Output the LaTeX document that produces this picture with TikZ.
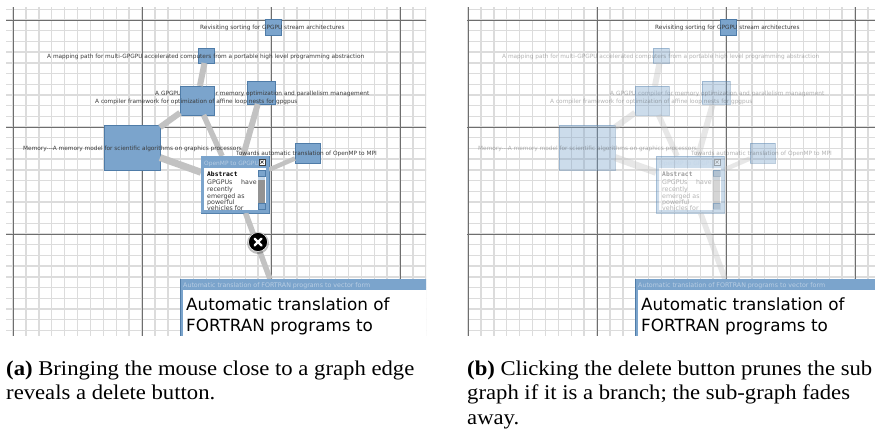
\documentclass[tikz,border=0pt]{standalone}
\usepackage{fontspec}
\usetikzlibrary{calc}
\setmainfont{Liberation Serif}
\newfontfamily\capf[FakeStretch=1.08]{Liberation Serif}
\newfontfamily\djv{DejaVu Sans}
\newfontfamily\djm{DejaVu Sans Mono}
\definecolor{nodeblue}{HTML}{7BA4CC}
\definecolor{nodeedge}{HTML}{4F7CA8}
\definecolor{edgegray}{HTML}{C2C2C2}
\definecolor{minorline}{HTML}{DCDCDC}
\definecolor{majorline}{HTML}{6E6E6E}
\definecolor{labelink}{HTML}{3C3C3C}
\definecolor{titleink}{HTML}{B9CEE4}
\def\fade{1}
\tikzset{
  gnode/.style={draw=nodeedge,line width=0.6pt,fill=nodeblue,inner sep=0pt,outer sep=0pt,opacity=\fade},
  glabel/.style={anchor=base west,inner sep=0pt,text=labelink,font=\djv\fontsize{5.8}{7}\selectfont,opacity=\fade},
  gedge/.style={draw=edgegray,opacity=\fade},
  winframe/.style={draw=nodeedge,line width=0.6pt,inner sep=0pt,outer sep=0pt,opacity=\fade},
  winwhite/.style={fill=white,opacity=\fade},
  wintext/.style={anchor=base west,inner sep=0pt,text=labelink,font=\djv\fontsize{6.3}{7}\selectfont,opacity=\fade},
  captext/.style={anchor=base west,inner sep=0pt,font=\capf\fontsize{21}{24}\selectfont},
}
\newcommand{\gpanel}[5]{%
\begin{scope}[xshift=#2pt]
\def\fade{#3}
\clip (#4,7) rectangle (#5,336);
\foreach \k in {0,...,33} \draw[minorline,line width=1.4pt] ({13+12.9*\k-12.9},7) -- ({13+12.9*\k-12.9},336);
\foreach \k in {-1,...,30} \draw[minorline,line width=1.4pt] (0,{20+10.7*\k}) -- (430,{20+10.7*\k});
\foreach \k in {13,142,271,400} \draw[majorline,line width=1pt] (\k,7) -- (\k,336);
\foreach \k in {20,127,234} \draw[majorline,line width=1pt] (0,\k) -- (430,\k);
\node[gnode,minimum width=16pt,minimum height=15pt] (#1map) at (206,55.5) {};
\node[gnode,minimum width=56pt,minimum height=45pt] (#1mem) at (132,147.5) {};
\node[gnode,minimum width=25pt,minimum height=20pt] (#1tow) at (307.5,153) {};
\node[gnode,minimum width=28pt,minimum height=23pt] (#1cmp) at (261,92.5) {};
\node[glabel] (#1lgpu) at (155,95) {A GPGPU compiler for memory optimization and parallelism management};
\node[gnode,minimum width=34pt,minimum height=29pt] (#1gpu) at (197,100.5) {};
\node[winframe,minimum width=68pt,minimum height=57pt] (#1win) at (235,184.5) {};
\coordinate (#1bigin) at (270,279);
\draw[gedge,line width=7pt] (#1mem) -- (#1win);
\draw[gedge,line width=6pt] (#1gpu) -- (#1mem);
\draw[gedge,line width=6pt] (#1map) -- (#1gpu);
\draw[gedge,line width=5.5pt] (#1gpu) -- (#1win);
\draw[gedge,line width=6pt] (#1cmp) -- (#1win);
\draw[gedge,line width=4.5pt] (#1tow) -- (#1win);
\draw[gedge,line width=5.5pt] (#1win) -- (#1bigin);
\node[glabel] (#1lmap) at (47,58) {A mapping path for multi-GPGPU accelerated computers from a portable high level programming abstraction};
\node[glabel] (#1lcmp) at (95,103) {A compiler framework for optimization of affine loop nests for gpgpus};
\node[glabel] (#1lmem) at (23,150) {Memory---A memory model for scientific algorithms on graphics processors};
\node[glabel] (#1ltow) at (236,155.5) {Towards automatic translation of OpenMP to MPI};
\fill[nodeblue,even odd rule,opacity=\fade] (201,156) rectangle (269,213) (204,168) rectangle (266,210);
\fill[winwhite] (204,168) rectangle (266,210);
\node[anchor=base west,inner sep=0pt,text=titleink,font=\djv\fontsize{5.9}{7}\selectfont,opacity=\fade] (#1wt) at (204,165) {OpenMP to GPGPU};
\draw[draw=labelink,fill=white,line width=0.5pt,opacity=\fade] (259,159) rectangle (265,165);
\draw[labelink,line width=0.7pt,opacity=\fade] (260.5,160.5) -- (263.5,163.5) (260.5,163.5) -- (263.5,160.5);
\node[anchor=base west,inner sep=0pt,text=black,font=\djm\bfseries\fontsize{6.3}{7}\selectfont,opacity=\fade] (#1wa) at (207,176.5) {Abstract};
\node[wintext] (#1w1) at (207,184) {GPGPUs};
\node[wintext] (#1w1b) at (241,184) {have};
\node[wintext] (#1w2) at (207,191) {recently};
\node[wintext] (#1w3) at (207,198) {emerged as};
\node[wintext] (#1w4) at (207,204) {powerful};
\begin{scope}
\clip (204,205) rectangle (258,210);
\node[wintext] (#1w5) at (207,210.5) {vehicles for};
\end{scope}
\fill[fill=gray!85,opacity=\fade] (258,170) rectangle (265,209);
\fill[fill=nodeblue!45,opacity=\fade] (258,177) rectangle (265,180);
\draw[fill=nodeblue,draw=nodeedge,line width=0.4pt,opacity=\fade] (258,170) rectangle (265,176);
\draw[fill=nodeblue,draw=nodeedge,line width=0.4pt,opacity=\fade] (258,203) rectangle (265,209);
\node[gnode,opacity=1,minimum width=16pt,minimum height=16pt] (#1top) at (273,27.5) {};
\node[glabel,opacity=1] (#1ltop) at (200,29.5) {Revisiting sorting for GPGPU stream architectures};
\node[draw=none,fill=white,inner sep=0pt,outer sep=0pt,minimum width=260pt,minimum height=57pt] (#1big) at (310,307.5) {};
\fill[nodeblue] (180,279) rectangle (440,290);
\fill[nodeblue] (180,279) rectangle (183,336);
\draw[nodeedge,line width=0.5pt] (180,279) -- (180,336);
\node[anchor=base west,inner sep=0pt,text=titleink,font=\djv\fontsize{6.3}{7}\selectfont] (#1bt) at (183,287.5) {Automatic translation of FORTRAN programs to vector form};
\node[anchor=base west,inner sep=0pt,text=black,font=\djv\fontsize{16.8}{20}\selectfont] (#1b1) at (186,310) {Automatic translation of};
\node[anchor=base west,inner sep=0pt,text=black,font=\djv\fontsize{16.8}{20}\selectfont] (#1b2) at (186,331) {FORTRAN programs to};
\end{scope}}
\begin{document}
\begin{tikzpicture}[x=1pt,y=-1pt]
\useasboundingbox[fill=white] (0,0) rectangle (875,432);
\gpanel{a}{0}{1}{6}{426}
\gpanel{b}{455}{0.38}{12}{420}
\fill[black,opacity=0.25] (258,243) circle (11);
\node[circle,fill=black,draw=white,line width=0.5pt,minimum size=19pt,inner sep=0pt] (del) at (258,242) {};
\draw[white,line width=2.4pt,line cap=round] ($(del)+(-3.4,-3.4)$) -- ($(del)+(3.4,3.4)$) ($(del)+(-3.4,3.4)$) -- ($(del)+(3.4,-3.4)$);
\node[captext] (c1) at (6,375) {\textbf{(a)} Bringing the mouse close to a graph edge};
\node[captext] (c2) at (6,399) {reveals a delete button.};
\node[captext] (c3) at (467,375) {\textbf{(b)} Clicking the delete button prunes the sub};
\node[captext] (c4) at (467,399) {graph if it is a branch; the sub-graph fades};
\node[captext] (c5) at (467,424) {away.};
\end{tikzpicture}
\end{document}
